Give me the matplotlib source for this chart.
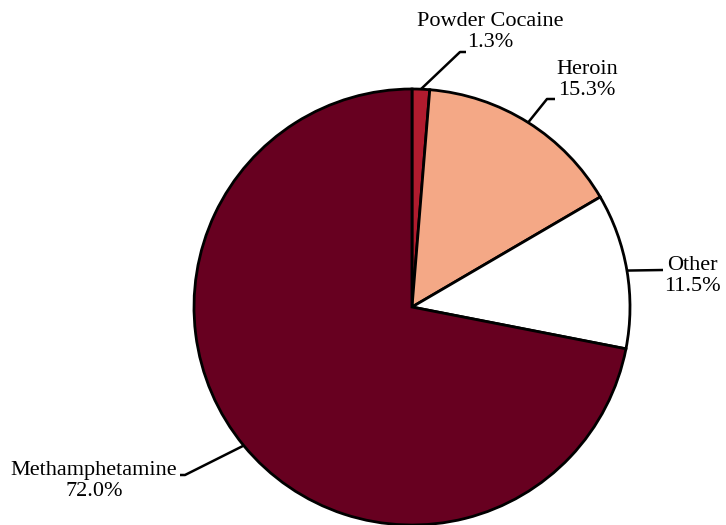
import matplotlib
matplotlib.use('Agg')
import matplotlib.pyplot as plt
import numpy as np

labels = ['Powder Cocaine', 'Heroin', 'Other', 'Methamphetamine']
values = [1.3, 15.3, 11.5, 72.0]
colors = ['#b01b2e', '#f4a886', '#ffffff', '#670020']

# label layout (pixel coordinates, origin top-left): elbow, line end, text centre
elbows = [(460, 52), (547, 99), (None, 270), (185, 475)]
line_ends = [(466, 52), (555, 99), (663, 270), (180, 475)]
text_pos = [(490, 32), (587, 80), (692, 276), (94, 481)]

W, H = 726, 525
plt.rcParams['font.family'] = ['Liberation Serif', 'DejaVu Serif']
fig = plt.figure(figsize=(W / 100, H / 100), dpi=100)
ax = fig.add_axes([0, 0, 1, 1])

cx, cy, R = 412, H - 307, 218
wedges, _ = ax.pie(values, colors=colors, startangle=90, counterclock=False,
                   center=(cx, cy), radius=R, frame=True,
                   wedgeprops=dict(edgecolor='black', linewidth=2.0))
ax.set_xlim(0, W)
ax.set_ylim(0, H)
ax.set_aspect('equal')
ax.axis('off')

for w, lab, v, el, le, tp in zip(wedges, labels, values, elbows, line_ends, text_pos):
    ang = np.deg2rad((w.theta1 + w.theta2) / 2)
    ex, ey = cx + R * np.cos(ang), cy + R * np.sin(ang)
    if el[0] is None:
        pts = [(ex, ey), (le[0], H - le[1])]
    else:
        pts = [(ex, ey), (el[0], H - el[1]), (le[0], H - le[1])]
    xs, ys = zip(*pts)
    ax.plot(xs, ys, color='black', lw=1.8, solid_capstyle='butt', clip_on=False)
    ax.text(tp[0], H - tp[1], f'{lab}\n{v:.1f}%', ha='center', va='center',
            fontsize=16, linespacing=1.1, color='black')

fig.savefig('out.png', dpi=100)
